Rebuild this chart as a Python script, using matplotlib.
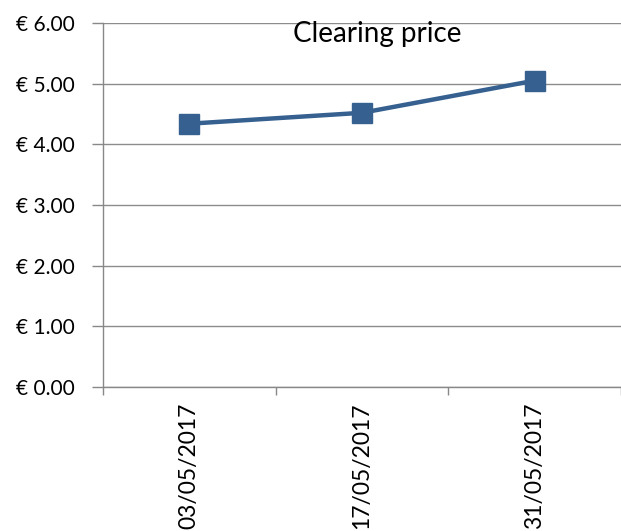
import matplotlib
matplotlib.use("Agg")
import matplotlib.pyplot as plt

dates = ["03/05/2017", "17/05/2017", "31/05/2017"]
prices = [4.34, 4.52, 5.05]
yticks = [0, 1, 2, 3, 4, 5, 6]

W, H = 621, 531
fig = plt.figure(figsize=(W/100, H/100), dpi=100)
plt.rcParams['font.family'] = ['Lato', 'DejaVu Sans']

left, right, top, bottom = 103, 621, 23, 387
cat_w = 176.0
ax = fig.add_axes([left/W, 1-bottom/H, (right-left)/W, (bottom-top)/H])

x = list(range(len(dates)))
ax.plot(x, prices, color='#35608F', lw=3.2, marker='s', markersize=14, zorder=3, clip_on=False)

ax.set_xlim(-0.5, -0.5 + (right-left)/cat_w)
ax.set_ylim(0, 6)
ax.set_yticks(yticks)
ax.set_yticklabels([f"€ {v:.2f}" for v in yticks], fontsize=15)
ax.set_xticks([i-0.5 for i in range(len(dates)+1)], minor=False)
ax.set_xticklabels([])
ax.set_xticks(x, minor=True)
ax.set_xticklabels(dates, minor=True, rotation=90, fontsize=16.5, va='top')
ax.tick_params(axis='x', which='minor', length=0, pad=11)
ax.tick_params(axis='x', which='major', length=6, color='#888888', width=1)
ax.tick_params(axis='y', length=8, color='#888888', width=1, pad=12)

ax.grid(axis='y', color='#8c8c8c', lw=1)
ax.set_axisbelow(True)
for s in ['top', 'right']:
    ax.spines[s].set_visible(False)
for s in ['left', 'bottom']:
    ax.spines[s].set_color('#888888')
    ax.spines[s].set_linewidth(1)

fig.text(377/W, 1-34/H, "Clearing price", ha='center', va='center', fontsize=20)

fig.savefig("out.png", dpi=100)
